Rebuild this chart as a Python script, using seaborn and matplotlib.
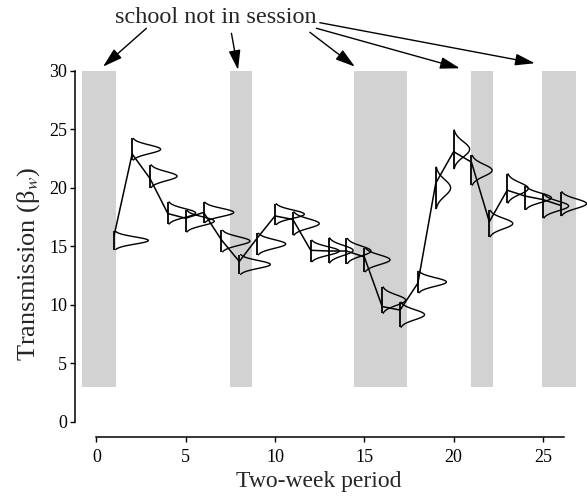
import numpy as np
import pandas as pd
import matplotlib
matplotlib.use("Agg")
import matplotlib.pyplot as plt
import seaborn as sns

# Two-week periods and estimated transmission rates
periods = [1, 2, 3, 4, 5, 6, 7, 8, 9, 10, 11, 12, 13,
           14, 15, 16, 17, 18, 19, 20, 21, 22, 23, 24, 25, 26]
beta_est = [16.0, 22.9, 20.8, 17.8, 17.4, 17.9, 15.55, 13.7, 15.7, 17.6, 17.3, 14.66, 14.6,
            14.6, 14.1, 9.85, 9.55, 11.85, 20.4, 23.1, 22.2, 17.1, 19.8, 19.3, 19.0, 18.5]

# Posterior distribution of each period's rate (mode and spread)
post_mode = [15.5, 23.3, 21.0, 17.85, 17.15, 17.9, 15.45, 13.45, 15.2, 17.75, 16.95, 14.6, 14.65,
             14.6, 13.85, 10.4, 9.15, 11.95, 20.0, 23.3, 21.5, 16.95, 19.95, 19.15, 18.45, 18.65]
post_sd = [0.31, 0.37, 0.39, 0.38, 0.37, 0.35, 0.37, 0.34, 0.37, 0.36, 0.40, 0.37, 0.43,
           0.43, 0.41, 0.45, 0.43, 0.37, 0.71, 0.66, 0.51, 0.45, 0.50, 0.40, 0.41, 0.41]

# School holidays (periods when school is not in session)
break_start = [-0.8, 7.5, 14.45, 21.0, 24.95]
break_end = [1.1, 8.7, 17.4, 22.2, 26.85]
break_low = 3
break_high = 30

xticks = [0, 5, 10, 15, 20, 25]
yticks = [0, 5, 10, 15, 20, 25, 30]

sns.set_theme(style="ticks")
plt.rcParams["font.family"] = ["Liberation Serif", "DejaVu Serif"]
plt.rcParams["mathtext.fontset"] = "stix"

fig = plt.figure(figsize=(5.87, 4.97), dpi=100)
ax = fig.add_axes([75 / 587, (497 - 421.7) / 497, (587 - 75) / 587, 356.7 / 497])

# shaded holiday bands
widths = [e - s for s, e in zip(break_start, break_end)]
ax.bar(break_start, [break_high - break_low] * len(break_start), width=widths,
       bottom=break_low, align="edge", color="#d2d2d2", linewidth=0, zorder=1)

# trajectory of the estimates
df = pd.DataFrame({"period": periods, "beta": beta_est})
sns.lineplot(data=df, x="period", y="beta", color="black", linewidth=1.1,
             ax=ax, zorder=3)

# sideways posterior densities
scale = 1.48
for p, m, s in zip(periods, post_mode, post_sd):
    yy = np.linspace(m - 2.5 * s, m + 2.5 * s, 120)
    dens = np.exp(-0.5 * ((yy - m) / s) ** 2) / (s * np.sqrt(2 * np.pi))
    ax.plot(p + scale * dens, yy, color="black", linewidth=1.0, zorder=4)
    ax.vlines(p, m - 2.5 * s, m + 2.5 * s, color="black", linewidth=1.3, zorder=4)

ax.set_xlim(-1.2, 27.47)
ax.set_ylim(0, 30.51)
ax.set_xticks(xticks)
ax.set_yticks(yticks)
ax.tick_params(axis="both", direction="out", length=3.5, width=1.0, colors="black",
               labelsize=13, pad=2)
ax.tick_params(axis="x", pad=5)

for side in ("top", "right"):
    ax.spines[side].set_visible(False)
ax.spines["left"].set_bounds(0, 30)
ax.spines["bottom"].set_bounds(0, 26.2)
ax.spines["bottom"].set_position(("outward", 10.8))
for side in ("left", "bottom"):
    ax.spines[side].set_color("black")
    ax.spines[side].set_linewidth(1.1)

ax.set_xlabel("Two-week period", fontsize=17)
ax.set_ylabel(r"Transmission (β$_w$)", fontsize=19)
ax.xaxis.set_label_coords(0.477, -0.169)
ax.xaxis.label.set_va("center")
ax.yaxis.set_label_coords(-0.09, 0.442)
ax.yaxis.label.set_va("center")

# annotation pointing at each holiday band
ax.text(6.66, 34.6, "school not in session", fontsize=17.5, ha="center", va="center",
        clip_on=False)
arrow_from = [(2.8, 33.65), (7.56, 33.22), (11.95, 33.31), (12.32, 33.65), (12.51, 34.13)]
arrow_to = [(0.37, 30.37), (7.93, 30.09), (14.47, 30.37), (20.35, 30.23), (24.55, 30.66)]
for a, b in zip(arrow_from, arrow_to):
    ax.annotate("", xy=b, xytext=a, xycoords="data", textcoords="data",
                annotation_clip=False,
                arrowprops=dict(arrowstyle="-|>,head_length=1.0,head_width=0.3",
                                color="black", linewidth=1.0,
                                shrinkA=0, shrinkB=0))

fig.savefig("out.png", dpi=100)
